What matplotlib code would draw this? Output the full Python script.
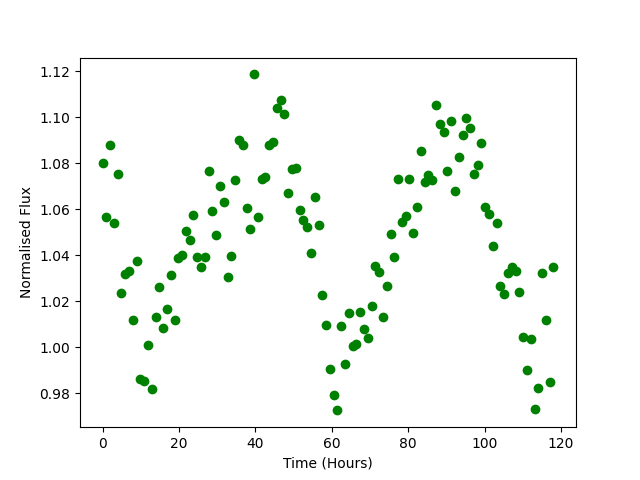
import matplotlib
matplotlib.use('Agg')
import matplotlib.pyplot as plt
import numpy as np

# hourly-ish cadence, 120 samples spanning 0-118 h
time = np.linspace(0, 118, 120)

flux = [
    1.0799, 1.0564, 1.0877, 1.0538, 1.0751, 1.0234, 1.0320, 1.0329, 1.0116, 1.0373,
    0.9861, 0.9853, 1.0008, 0.9820, 1.0129, 1.0261, 1.0083, 1.0168, 1.0312, 1.0117,
    1.0386, 1.0399, 1.0503, 1.0468, 1.0573, 1.0394, 1.0347, 1.0390, 1.0764, 1.0590,
    1.0486, 1.0699, 1.0630, 1.0307, 1.0396, 1.0725, 1.0900, 1.0877, 1.0603, 1.0513,
    1.1186, 1.0564, 1.0732, 1.0738, 1.0878, 1.0890, 1.1042, 1.1074, 1.1012, 1.0670,
    1.0775, 1.0781, 1.0596, 1.0552, 1.0523, 1.0409, 1.0652, 1.0529, 1.0225, 1.0096,
    0.9907, 0.9790, 0.9725, 1.0091, 0.9926, 1.0147, 1.0007, 1.0013, 1.0151, 1.0077,
    1.0038, 1.0181, 1.0352, 1.0326, 1.0133, 1.0268, 1.0490, 1.0394, 1.0733, 1.0543,
    1.0569, 1.0733, 1.0497, 1.0610, 1.0853, 1.0716, 1.0748, 1.0729, 1.1055, 1.0969,
    1.0934, 1.0768, 1.0983, 1.0677, 1.0826, 1.0921, 1.0996, 1.0955, 1.0751, 1.0791,
    1.0886, 1.0609, 1.0581, 1.0442, 1.0542, 1.0265, 1.0233, 1.0321, 1.0347, 1.0329,
    1.0242, 1.0043, 0.9900, 1.0036, 0.9729, 0.9822, 1.0321, 1.0116, 0.9847, 1.0348,
]

plt.figure(figsize=(6.4, 4.8), dpi=100)
plt.plot(time, flux, 'o', color='green')
plt.xlabel('Time (Hours)')
plt.ylabel('Normalised Flux')
plt.savefig('out.png')
